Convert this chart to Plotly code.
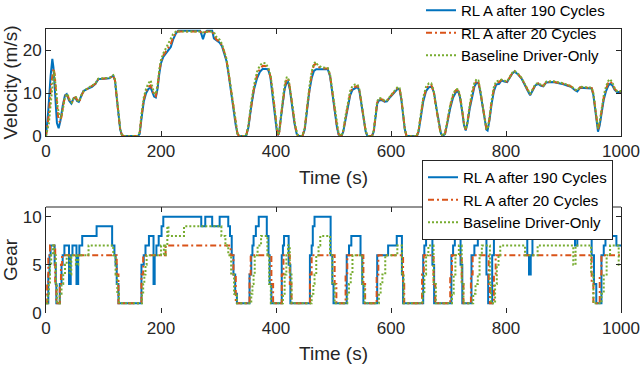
import plotly.graph_objects as go

# ---------------- data ----------------
series_names = ["RL A after 190 Cycles", "RL A after 20 Cycles", "Baseline Driver-Only"]
x_ticks = [0, 200, 400, 600, 800, 1000]
vel_ticks = [0, 10, 20]
gear_ticks = [0, 5, 10]

# velocity (time s, m/s)
vel_rl190 = [(0,0),(4,6),(8,14),(11,18),(13,16),(16,8),(19,3),(22,1.8),(25,3.5),(29,7),(33,9.5),(36,9.8),(40,8.3),(44,7.6),(48,8.8),(51,9),(54,8.2),(57,8.0),(61,9.5),(65,10.5),(72,11),(80,11.5),(86,12.2),(91,13.3),(100,13.4),(110,13.5),(117,14.1),(120,13),(123,9),(126,4.5),(129,1.5),(132,0.2),(135,0),(160,0),(163,0.5),(166,4),(170,8),(174,10),(178,11),(182,11.3),(185,10.3),(188,9.2),(191,9),(194,11),(197,14.5),(200,17),(204,18.5),(208,19.3),(213,20),(217,20.8),(221,22.5),(226,24),(230,24.6),(268,24.6),(271,23.5),(273,22.6),(275,23.5),(277,24.3),(280,24.6),(289,24.6),(292,22.8),(296,22.4),(302,21.8),(306,21),(310,19.5),(314,17.5),(318,14),(322,10),(326,6),(330,2.5),(333,0.5),(336,0),(348,0),(352,2),(357,7),(362,11),(367,13.5),(372,15),(377,15.7),(386,15.6),(390,14),(394,10),(398,5),(401,1.5),(403,0.2),(405,0.5),(408,4),(412,8.5),(415,11),(418,12.3),(421,12.6),(424,11),(428,7),(432,3),(436,0.5),(440,0),(446,0),(450,1.5),(454,6),(458,10.5),(462,13.5),(466,15.2),(470,15.6),(490,15.6),(494,14),(498,10),(502,5.5),(506,2),(509,0.3),(514,0),(517,1),(521,4),(525,7),(529,9.5),(533,10.8),(537,11.1),(542,11.5),(545,10.5),(548,8),(552,4),(556,1),(559,0),(567,0),(570,1),(573,4.5),(576,7.5),(579,8.3),(584,8.4),(589,8.0),(593,8.1),(598,9),(603,9.7),(608,10.5),(612,11.1),(615,10.8),(618,8.5),(621,5),(624,1.5),(627,0),(645,0),(648,1),(652,4.5),(656,8),(661,10.5),(666,11.4),(671,11.5),(675,10),(679,6.5),(683,3),(687,0.5),(690,0),(694,0.5),(698,3),(703,6.5),(708,9),(713,10.3),(717,10.4),(720,9),(724,5.5),(727,2.5),(730,1.3),(733,3),(737,6.5),(741,9.5),(745,11.5),(749,12.5),(752,12.3),(755,10.5),(759,7),(763,3.5),(766,1.5),(768,1.3),(771,3.5),(775,7.5),(779,10.5),(783,12),(788,12.2),(792,13),(797,12.7),(802,12.6),(806,13.5),(811,14.6),(815,15),(820,14.5),(827,13.4),(833,12),(838,10.5),(842,9.5),(846,10.5),(851,11.8),(856,12.2),(860,11.8),(865,11.6),(870,12.5),(882,12.6),(890,12.4),(900,12.1),(906,11.8),(913,11.5),(920,10.7),(924,10.4),(929,11.3),(940,11.2),(949,11.1),(952,9.5),(955,6.5),(958,3),(960,1.0),(963,2.5),(966,5.5),(970,8.5),(974,10.5),(978,11.8),(981,12.2),(985,11.8),(989,10.8),(993,10.3),(1000,10.3)]

vel_rl20 = [(0,0),(5,5),(9,12),(13,15.8),(15,14.5),(18,8.5),(21,4.5),(24,3.2),(27,4.5),(31,8),(35,9.8),(37,9.8),(41,8.3),(45,7.7),(49,8.9),(52,9),(55,8.2),(58,8.0),(62,9.6),(66,10.5),(72,11),(80,11.5),(86,12.2),(91,13.3),(100,13.4),(110,13.5),(117,14.1),(120,13),(123,9),(126,4.5),(129,1.5),(132,0.2),(135,0),(160,0),(163,0.8),(166,4.5),(170,8.5),(174,10.4),(178,11.5),(182,11.8),(185,10.8),(188,9.5),(191,9.3),(194,11.5),(197,15),(200,17.4),(204,18.8),(208,19.6),(213,20.5),(217,21.5),(221,23),(226,24.2),(230,24.4),(268,24.4),(272,24.0),(276,24.2),(280,24.4),(289,24.4),(292,23.5),(296,22.6),(302,22),(306,21.2),(310,19.7),(314,17.7),(318,14.2),(322,10.2),(326,6.2),(330,2.6),(333,0.5),(336,0),(348,0),(352,2.3),(357,7.5),(362,11.5),(367,14.2),(372,15.7),(377,16.4),(383,16.3),(387,15.5),(391,13.5),(395,9.5),(399,4.5),(402,1.2),(404,0.2),(406,1),(409,5),(413,9.5),(416,12),(419,13.5),(422,13),(425,10.5),(429,6.5),(433,2.5),(437,0.3),(441,0),(446,0),(450,1.8),(454,6.5),(458,11),(462,14.5),(466,16.6),(469,16.8),(473,16.2),(480,15.8),(490,15.8),(494,14.2),(498,10.3),(502,5.8),(506,2.2),(509,0.4),(514,0),(517,1.2),(521,4.5),(525,7.5),(529,10),(533,11.2),(537,11.5),(542,11.7),(545,10.7),(548,8.2),(552,4.2),(556,1.1),(559,0),(567,0),(570,1.2),(573,5),(576,7.8),(579,8.6),(584,8.6),(589,8.1),(593,8.2),(598,9.1),(603,9.9),(608,10.7),(612,11.3),(615,11),(618,8.7),(621,5.2),(624,1.6),(627,0),(645,0),(648,1.3),(652,5),(656,8.5),(661,11),(666,11.9),(670,11.9),(674,10.5),(678,7),(682,3.5),(686,0.8),(690,0),(694,0.6),(698,3.3),(703,7),(708,9.5),(713,10.7),(717,10.6),(720,9.2),(724,5.8),(727,2.7),(730,1.5),(733,3.2),(737,7),(741,10),(745,12),(749,12.9),(752,12.6),(755,10.8),(759,7.2),(763,3.7),(766,1.6),(768,1.5),(771,3.8),(775,8),(779,11),(783,12.4),(788,12.6),(792,13.1),(797,12.8),(802,12.7),(806,13.6),(811,14.7),(815,15.1),(820,14.6),(827,13.5),(833,12.1),(838,10.6),(842,9.7),(846,10.7),(851,12),(856,12.3),(860,11.9),(865,11.7),(870,12.6),(882,12.7),(890,12.5),(900,12.2),(906,11.9),(913,11.6),(920,10.8),(924,10.5),(929,11.4),(940,11.3),(949,11.2),(952,9.8),(955,7),(958,3.5),(960,1.6),(963,3),(966,6),(970,9),(974,11),(978,12.4),(981,12.8),(985,12.2),(989,11),(993,10.4),(1000,10.4)]

vel_base = [(0,0),(5,3),(10,10),(14,15.2),(17,11.5),(20,7),(23,4.8),(26,4.2),(29,6),(33,9),(37,9.9),(41,8.5),(45,7.8),(49,9),(52,9.1),(55,8.3),(58,8.1),(62,9.7),(66,10.6),(72,11.1),(80,11.6),(86,12.3),(91,13.4),(100,13.5),(110,13.6),(117,14.2),(120,13.2),(123,9.5),(126,5),(129,1.8),(132,0.3),(135,0),(160,0),(163,1),(166,5),(170,9),(174,11),(178,12.3),(182,13),(185,11.5),(188,10),(191,9.8),(194,12),(197,15.5),(200,17.8),(204,19.3),(208,20.3),(213,21.5),(217,22.8),(221,23.8),(226,24.4),(230,24.4),(268,24.4),(272,24.2),(276,24.3),(289,24.4),(293,24),(297,23),(302,22.5),(306,21.5),(310,20),(314,18),(318,14.5),(322,10.5),(326,6.5),(330,2.8),(333,0.6),(336,0),(348,0),(352,2.5),(357,8),(362,12),(367,15),(372,16.5),(377,17.1),(382,17),(387,15.8),(391,13.8),(395,9.8),(399,4.8),(402,1.3),(404,0.3),(406,1.2),(409,5.5),(413,10),(416,12.6),(419,13.8),(422,13.2),(425,10.8),(429,6.8),(433,2.8),(437,0.4),(441,0),(446,0),(450,2),(454,7),(458,11.5),(462,15),(466,17),(469,17.3),(473,16.5),(480,16),(490,15.9),(494,14.4),(498,10.6),(502,6),(506,2.4),(509,0.5),(514,0),(517,1.4),(521,4.8),(525,8),(529,10.5),(533,11.7),(537,12),(542,11.9),(545,10.9),(548,8.4),(552,4.4),(556,1.2),(559,0),(567,0),(570,1.4),(573,5.3),(576,8.1),(579,8.9),(584,8.8),(589,8.2),(593,8.3),(598,9.2),(603,10),(608,10.8),(612,11.5),(615,11.2),(618,8.9),(621,5.4),(624,1.7),(627,0),(645,0),(648,1.5),(652,5.5),(656,9),(661,11.5),(666,12.3),(670,12.3),(674,10.8),(678,7.2),(682,3.7),(686,0.9),(690,0),(694,0.7),(698,3.6),(703,7.3),(708,9.8),(713,11),(717,10.9),(720,9.4),(724,6),(727,2.9),(730,1.6),(733,3.4),(737,7.3),(741,10.4),(745,12.4),(749,13.3),(752,13),(755,11),(759,7.4),(763,3.8),(766,1.7),(768,1.6),(771,4),(775,8.3),(779,11.5),(783,12.8),(788,12.9),(792,13.2),(797,12.9),(802,12.8),(806,13.7),(811,14.8),(815,15.2),(820,14.7),(827,13.6),(833,12.2),(838,10.7),(842,9.8),(846,10.8),(851,12.1),(856,12.4),(860,12),(865,11.8),(870,12.7),(882,12.8),(890,12.6),(900,12.3),(906,12),(913,11.7),(920,10.9),(924,10.6),(929,11.5),(940,11.4),(949,11.3),(952,10),(955,7.3),(958,3.8),(960,1.8),(963,3.4),(966,6.5),(970,9.5),(974,11.6),(978,12.9),(981,13.3),(985,12.5),(989,11.2),(993,10.5),(1000,10.5)]

# gear (time s, gear) - step changes
gear_rl190 = [(0,1),(4,4),(6,6),(8,7),(15,5),(17,3),(18,1),(24,3),(27,5),(29,6),(32,7),(40,3),(43,6),(46,7),(53,3),(56,6),(58,7),(63,8),(88,9),(115,7),(119,6),(121,5),(123,3),(126,1),(166,5),(170,6),(173,7),(179,8),(187,3),(189,6),(192,7),(196,8),(201,9),(204,10),(270,9),(277,10),(289,9),(302,10),(317,9),(320,8),(323,6),(326,4),(329,2),(332,1),(354,4),(357,6),(359,7),(361,8),(365,9),(370,10),(384,8),(387,6),(389,3),(392,1),(410,6),(412,7),(414,8),(422,5),(425,1),(459,6),(462,7),(464,9),(467,10),(495,6),(498,3),(500,1),(523,6),(527,7),(531,8),(547,6),(550,3),(552,1),(576,6),(595,7),(610,8),(619,4),(621,1),(656,6),(658,7),(661,8),(672,5),(675,1),(705,6),(708,7),(711,8),(721,5),(724,1),(740,6),(745,7),(751,8),(766,4),(769,1),(776,6),(779,8),(804,10),(837,6),(840,4),(843,6),(846,8),(920,7),(924,8),(949,6),(953,3),(957,1),(966,6),(970,7),(973,8),(992,7),(1000,7)]

gear_rl20 = [(0,1),(2,3),(4,6),(7,7),(16,3),(18,1),(24,3),(26,5),(28,6),(123,4),(126,1),(166,4),(169,6),(208,7),(321,6),(326,4),(330,1),(354,4),(356,6),(392,3),(395,1),(410,4),(413,6),(424,3),(427,1),(459,4),(462,6),(502,3),(505,1),(521,4),(524,6),(552,3),(555,1),(575,4),(578,6),(621,3),(623,1),(654,4),(657,6),(674,3),(677,1),(703,4),(706,6),(723,3),(726,1),(739,4),(742,6),(770,3),(772,1),(779,4),(782,6),(949,3),(952,1),(963,4),(966,6),(1000,6)]

gear_base = [(0,1),(3,2),(5,3),(7,5),(9,6),(12,7),(14,6),(17,3),(19,1),(24,2),(27,3),(30,4),(33,5),(36,6),(41,4),(44,6),(52,5),(56,6),(74,7),(117,6),(121,4),(124,2),(127,1),(167,2),(169,3),(171,4),(173,5),(175,6),(200,7),(205,6),(208,7),(211,9),(213,8),(240,9),(305,8),(312,7),(317,6),(322,4),(327,2),(332,1),(357,2),(359,3),(361,4),(363,6),(368,7),(374,8),(385,6),(388,3),(391,1),(412,2),(415,4),(418,6),(421,7),(424,4),(427,1),(462,2),(465,3),(467,4),(470,6),(474,7),(477,8),(494,6),(498,3),(502,1),(524,2),(527,3),(530,4),(533,6),(550,3),(554,1),(579,2),(582,3),(585,4),(590,6),(611,7),(619,4),(622,1),(655,2),(658,4),(661,6),(665,7),(674,3),(678,1),(706,2),(709,4),(712,6),(718,7),(723,3),(726,1),(743,2),(747,3),(751,4),(754,6),(758,7),(772,3),(774,1),(781,3),(784,5),(787,6),(790,7),(833,6),(855,7),(917,5),(921,7),(948,4),(952,1),(966,2),(970,4),(975,6),(981,7),(996,5),(1000,5)]

# ---------------- styling ----------------
colors = ["#0072BD", "#D95319", "#77AC30"]
dashes = ["solid", "6px,3px,2px,3px", "2px,2px"]
FONT = "Liberation Sans, Arial, Helvetica, sans-serif"
AX = "#262626"
W, H = 640, 366

fig = go.Figure()
for i, data in enumerate([vel_rl190, vel_rl20, vel_base]):
    fig.add_trace(go.Scatter(
        x=[p[0] for p in data], y=[p[1] for p in data], mode="lines",
        name=series_names[i], xaxis="x", yaxis="y", legend="legend",
        line=dict(color=colors[i], width=2, dash=dashes[i])))
for i, data in enumerate([gear_rl190, gear_rl20, gear_base]):
    fig.add_trace(go.Scatter(
        x=[p[0] for p in data], y=[p[1] for p in data], mode="lines",
        name=series_names[i], xaxis="x2", yaxis="y2", legend="legend2",
        line=dict(color=colors[i], width=2, dash=dashes[i], shape="hv")))

xdom = [46 / W, 621 / W]
common_x = dict(range=[0, 1000], tickvals=x_ticks, ticks="inside", ticklen=5,
                tickcolor=AX, tickfont=dict(size=17, color=AX, family=FONT),
                showgrid=False, zeroline=False, linecolor=AX, linewidth=1,
                domain=xdom, title_font=dict(size=19, color=AX, family=FONT),
                automargin=False)
common_y = dict(ticks="inside", ticklen=5, tickcolor=AX,
                tickfont=dict(size=17, color=AX, family=FONT),
                showgrid=False, zeroline=False, linecolor=AX, linewidth=1,
                showline=True, mirror="ticks", automargin=False,
                title_font=dict(size=19, color=AX, family=FONT), title_standoff=4)

fig.update_layout(
    width=W, height=H, margin=dict(l=0, r=0, t=0, b=0, autoexpand=False),
    paper_bgcolor="white", plot_bgcolor="white",
    font=dict(family=FONT, color=AX),
    xaxis=dict(common_x, anchor="y", showline=True, mirror="ticks",
               title_text="Time (s)", title_standoff=10),
    yaxis=dict(common_y, anchor="x", domain=[1 - 136 / H, 1 - 29 / H],
               range=[0, 25], tickvals=vel_ticks, title_text="Velocity (m/s)"),
    xaxis2=dict(common_x, anchor="y2", showline=False, mirror="ticks",
                title_text="Time (s)", title_standoff=9, ticklabelstandoff=3),
    yaxis2=dict(common_y, anchor="x2", domain=[1 - 313 / H, 1 - 207 / H],
                range=[0, 11], tickvals=gear_ticks, title_text="Gear"),
    legend=dict(x=421 / W, y=1 + 6 / H, xanchor="left", yanchor="top",
                bgcolor="rgba(255,255,255,0)", borderwidth=0,
                font=dict(size=15, color="black", family=FONT)),
    legend2=dict(x=422 / W, y=1 - 160 / H, xanchor="left", yanchor="top",
                 bgcolor="white", bordercolor=AX, borderwidth=1,
                 font=dict(size=15, color="black", family=FONT)),
    shapes=[dict(type="line", xref="x2 domain", yref="y2 domain",
                 x0=0, x1=1, y0=1, y1=1, line=dict(color=AX, width=1), layer="below")],
    showlegend=True,
)

fig.write_html("out.html", config={"displayModeBar": False},
               post_script="document.body.style.margin='0';document.body.style.overflow='hidden';")
